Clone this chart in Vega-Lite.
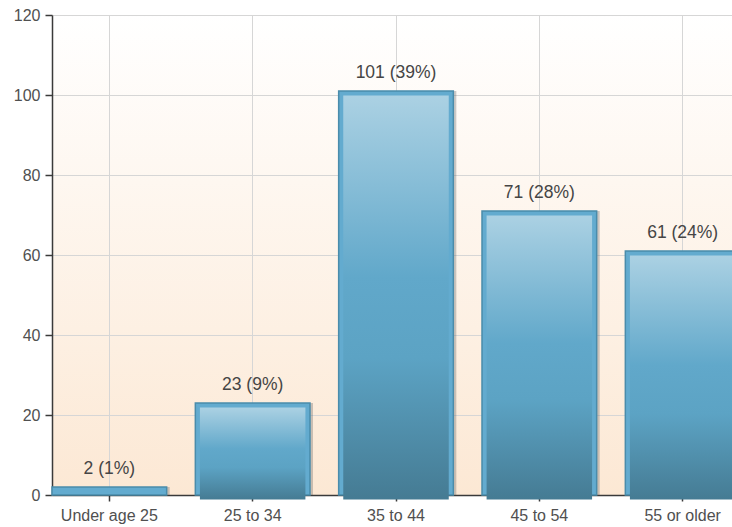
{
  "$schema": "https://vega.github.io/schema/vega-lite/v6.json",
  "autosize": {"type": "none"},
  "width": 688,
  "height": 480,
  "padding": {"left": 52, "top": 15, "right": 0, "bottom": 32},
  "background": "#ffffff",
  "config": {
    "font": "Liberation Sans",
    "view": {
      "stroke": null,
      "fill": {
        "gradient": "linear",
        "x1": 0, "y1": 0, "x2": 0, "y2": 1,
        "stops": [
          {"offset": 0, "color": "#ffffff"},
          {"offset": 1, "color": "#fce8d4"}
        ]
      }
    },
    "axis": {
      "labelFont": "Liberation Sans",
      "labelColor": "#505050",
      "domainColor": "#3a3a3a",
      "domainWidth": 1.5,
      "tickColor": "#3a3a3a",
      "tickWidth": 1.5,
      "gridColor": "#d6d6d6",
      "gridWidth": 1,
      "title": null
    },
    "axisY": {"labelFontSize": 16}
  },
  "data": {
    "values": [
      {"age": "Under age 25", "count": 2, "pct": 1},
      {"age": "25 to 34", "count": 23, "pct": 9},
      {"age": "35 to 44", "count": 101, "pct": 39},
      {"age": "45 to 54", "count": 71, "pct": 28},
      {"age": "55 or older", "count": 61, "pct": 24}
    ]
  },
  "transform": [
    {"calculate": "datum.count + ' (' + datum.pct + '%)'", "as": "label"}
  ],
  "encoding": {
    "x": {
      "field": "age",
      "type": "nominal",
      "sort": null,
      "scale": {"paddingInner": 0.2, "paddingOuter": 0},
      "axis": {
        "labelAngle": 0,
        "labelFontSize": 16,
        "labelPadding": 6,
        "tickSize": 6,
        "grid": true,
        "bandPosition": 0.5
      }
    },
    "y": {
      "field": "count",
      "type": "quantitative",
      "scale": {"domain": [0, 120], "nice": false},
      "axis": {
        "values": [0, 20, 40, 60, 80, 100, 120],
        "labelFontSize": 16,
        "labelPadding": 5,
        "tickSize": 7,
        "grid": true
      }
    }
  },
  "layer": [
    {
      "mark": {"type": "bar", "width": {"band": 1}, "xOffset": 3, "fill": "#6a6a6a", "opacity": 0.35}
    },
    {
      "mark": {"type": "bar", "width": {"band": 1}, "fill": "#63abcf", "stroke": "#4a8cab", "strokeWidth": 1.5}
    },
    {
      "transform": [{"filter": "datum.count > 5"}],
      "mark": {
        "type": "bar",
        "width": {"band": 0.92},
        "yOffset": 4.5,
        "y2Offset": -2.5,
        "fill": {
          "gradient": "linear",
          "x1": 0, "y1": 0, "x2": 0, "y2": 1,
          "stops": [
            {"offset": 0, "color": "#abd1e3"},
            {"offset": 0.45, "color": "#61a8ca"},
            {"offset": 0.65, "color": "#5ca3c4"},
            {"offset": 1, "color": "#457b93"}
          ]
        }
      }
    },
    {
      "mark": {"type": "text", "baseline": "alphabetic", "dy": -13, "fontSize": 17.5, "color": "#454545"},
      "encoding": {"text": {"field": "label"}}
    }
  ]
}
